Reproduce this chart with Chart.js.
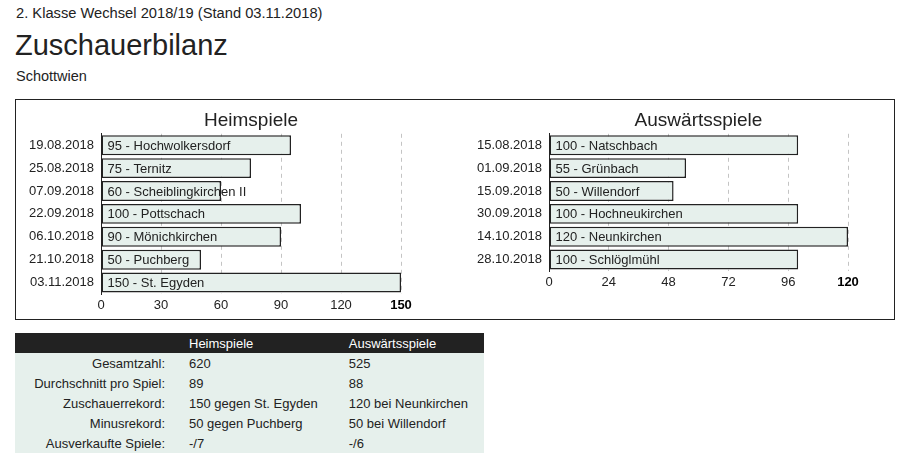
<!DOCTYPE html>
<html>
<head>
<meta charset="utf-8">
<script src="https://cdn.jsdelivr.net/npm/chart.js@4/dist/chart.umd.min.js"></script>
<style>
body { margin: 0; font-family: "Liberation Sans", Arial, sans-serif; color: #222; background: #fff; }
#kopf { position: absolute; left: 16px; top: 5px; font-size: 14.7px; }
#titel { position: absolute; left: 15px; top: 29px; font-size: 29px; }
#verein { position: absolute; left: 16px; top: 68px; font-size: 14.5px; }
#box { position: absolute; left: 15px; top: 99px; width: 878px; height: 219px; border: 1px solid #222; }
#heim { position: absolute; left: 1px; top: 1px; }
#ausw { position: absolute; left: 441px; top: 1px; }
table { position: absolute; left: 15px; top: 333px; width: 469px; border-collapse: collapse; font-size: 13px; }
th { background: #222; color: #fff; font-weight: normal; text-align: left; height: 20px; padding: 0 0 0 14px; }
td { background: #e6f0ec; height: 20px; padding: 0 0 0 14px; }
td.lab { text-align: right; padding: 0 10px 0 0; width: 150px; }
</style>
</head>
<body>
<div id="kopf">2. Klasse Wechsel 2018/19 (Stand 03.11.2018)</div>
<div id="titel">Zuschauerbilanz</div>
<div id="verein">Schottwien</div>
<div id="box">
  <canvas id="heim" width="439" height="217"></canvas>
  <canvas id="ausw" width="436" height="217"></canvas>
</div>
<table id="tab"></table>
<script>
// Heimspiele
var heimDaten = ["19.08.2018", "25.08.2018", "07.09.2018", "22.09.2018", "06.10.2018", "21.10.2018", "03.11.2018"];
var heimGegner = ["Hochwolkersdorf", "Ternitz", "Scheiblingkirchen II", "Pottschach", "Mönichkirchen", "Puchberg", "St. Egyden"];
var heimZuschauer = [95, 75, 60, 100, 90, 50, 150];

// Auswärtsspiele
var auswDaten = ["15.08.2018", "01.09.2018", "15.09.2018", "30.09.2018", "14.10.2018", "28.10.2018"];
var auswGegner = ["Natschbach", "Grünbach", "Willendorf", "Hochneukirchen", "Neunkirchen", "Schlöglmühl"];
var auswZuschauer = [100, 55, 50, 100, 120, 100];

// Tabelle
var tabKopf = ["", "Heimspiele", "Auswärtsspiele"];
var tabZeilen = ["Gesamtzahl:", "Durchschnitt pro Spiel:", "Zuschauerrekord:", "Minusrekord:", "Ausverkaufte Spiele:"];
var tabHeim = ["620", "89", "150 gegen St. Egyden", "50 gegen Puchberg", "-/7"];
var tabAusw = ["525", "88", "120 bei Neunkirchen", "50 bei Willendorf", "-/6"];

var schrift = '"Liberation Sans", Arial, sans-serif';
Chart.defaults.font.family = schrift;
Chart.defaults.color = '#222';

var balkenText = {
  id: 'balkenText',
  afterDatasetsDraw: function(chart) {
    var c = chart.ctx;
    var meta = chart.getDatasetMeta(0);
    var gegner = chart.options.plugins.balkenText.gegner;
    var werte = chart.data.datasets[0].data;
    c.save();
    c.font = '13px ' + schrift;
    c.fillStyle = '#222';
    c.textBaseline = 'middle';
    meta.data.forEach(function(bar, i) {
      c.fillText(werte[i] + ' - ' + gegner[i], bar.base + 6, bar.y + 1);
    });
    c.restore();
  }
};

function macheChart(id, labels, werte, gegner, titel, max, schritt, yBreite, rechts, unten) {
  return new Chart(document.getElementById(id), {
    type: 'bar',
    data: {
      labels: labels,
      datasets: [{
        data: werte,
        backgroundColor: '#e6f0ec',
        borderColor: '#222',
        borderWidth: 1.5,
        borderSkipped: false,
        barPercentage: 0.87,
        categoryPercentage: 1
      }]
    },
    plugins: [balkenText],
    options: {
      indexAxis: 'y',
      responsive: false,
      animation: false,
      layout: { padding: { left: 0, right: rechts, top: 0, bottom: unten } },
      plugins: {
        legend: { display: false },
        tooltip: { enabled: false },
        title: {
          display: true,
          text: titel,
          fullSize: false,
          color: '#222',
          font: { size: 19, weight: 'normal' },
          padding: { top: 8, bottom: 2 }
        },
        balkenText: { gegner: gegner }
      },
      scales: {
        x: {
          min: 0,
          max: max,
          ticks: {
            stepSize: schritt,
            padding: 4,
            color: function(ctx) { return ctx.tick && ctx.tick.value === max ? '#000' : '#222'; },
            font: function(ctx) {
              return { size: 13, weight: ctx.tick && ctx.tick.value === max ? 'bold' : 'normal' };
            }
          },
          grid: {
            drawTicks: false,
            color: function(ctx) { return ctx.index === 0 ? 'rgba(0,0,0,0)' : '#c4c4c4'; }
          },
          border: { display: false, dash: [4, 4] },
          afterFit: function(s) { s.height = 22; }
        },
        y: {
          ticks: { padding: 7, font: { size: 13 }, color: '#222' },
          grid: { display: false, drawTicks: false },
          border: { display: true, color: '#222', width: 1 },
          afterFit: function(s) { s.width = yBreite; }
        }
      }
    }
  });
}

macheChart('heim', heimDaten, heimZuschauer, heimGegner, 'Heimspiele', 150, 30, 84, 55, 2);
macheChart('ausw', auswDaten, auswZuschauer, auswGegner, 'Auswärtsspiele', 120, 24, 92, 45, 25);

var tab = document.getElementById('tab');
var kopf = '<tr>' + tabKopf.map(function(t) { return '<th>' + t + '</th>'; }).join('') + '</tr>';
var zeilen = tabZeilen.map(function(z, i) {
  return '<tr><td class="lab">' + z + '</td><td>' + tabHeim[i] + '</td><td>' + tabAusw[i] + '</td></tr>';
}).join('');
tab.innerHTML = kopf + zeilen;
</script>
</body>
</html>
